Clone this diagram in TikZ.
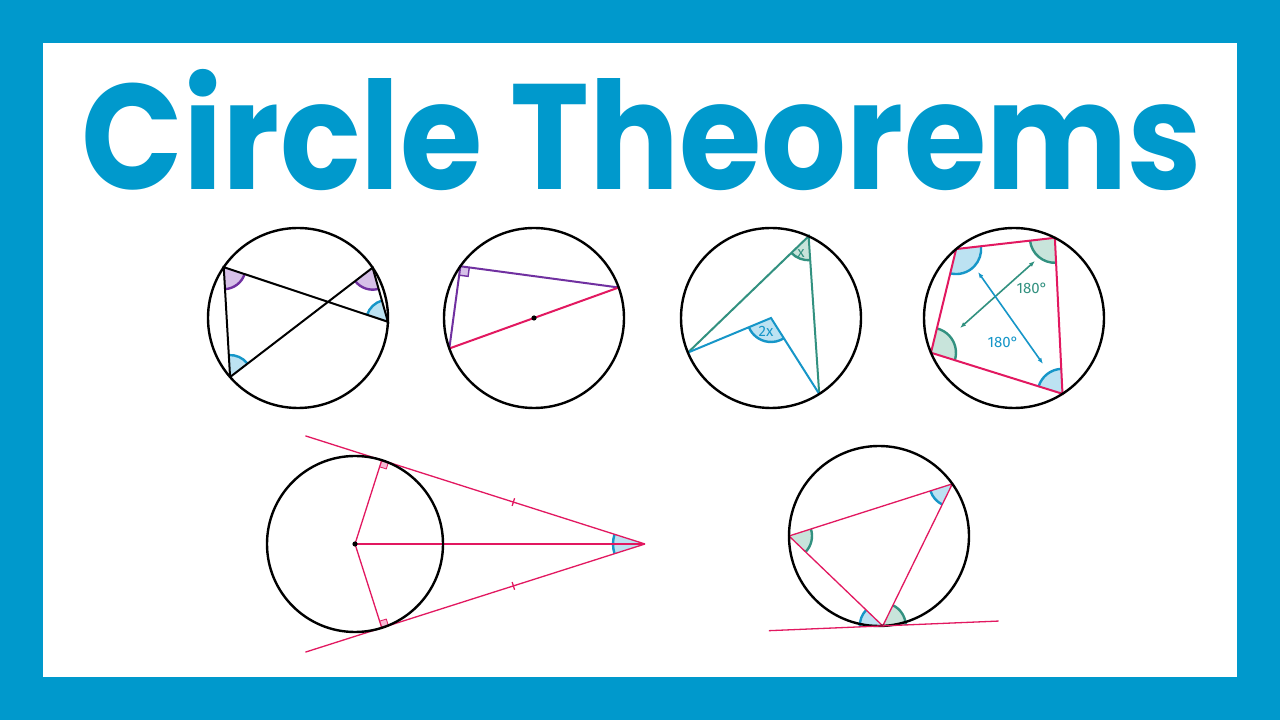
\documentclass[tikz,border=0pt]{standalone}
\usepackage{fontspec}
\newfontfamily\titlefont{Poppins}
\newfontfamily\labelfont{Fira Sans}
\usetikzlibrary{calc,angles,arrows.meta}
\definecolor{frameblue}{RGB}{0,153,204}
\definecolor{pinkline}{RGB}{226,24,96}
\definecolor{pinkfill}{RGB}{246,185,212}
\definecolor{purpline}{RGB}{112,48,160}
\definecolor{purpfill}{RGB}{214,192,232}
\definecolor{blueline}{RGB}{22,150,200}
\definecolor{bluefill}{RGB}{188,226,242}
\definecolor{tealline}{RGB}{50,145,128}
\definecolor{tealfill}{RGB}{200,228,219}
\begin{document}
\begin{tikzpicture}[x=1pt,y=1pt,
	rim/.style={draw=black,line width=2.4pt},
	chord/.style={line width=2pt},
	thin/.style={line width=1.3pt,pinkline},
	arcmark/.style={angle radius=#1,line width=2.4pt},
	title/.style={font=\titlefont\bfseries\fontsize{150}{150}\selectfont,text=frameblue,inner sep=0pt,anchor=base},
	lbl/.style={font=\labelfont\fontsize{15}{15}\selectfont,inner sep=1pt}]
	% frame
	\fill[frameblue] (0,0) rectangle (1280,720);
	\fill[white] (43,43) rectangle (1237,677);
	\node[title] (ttl) at (642,530) {\scalebox{0.89}[1]{Circle Theorems}};

	% angles in the same segment
	\coordinate (O1) at (298,402);
	\coordinate (A1) at ([shift={(145.6:90)}]O1);
	\coordinate (B1) at ([shift={(221:90)}]O1);
	\coordinate (C1) at ([shift={(34:90)}]O1);
	\coordinate (D1) at ([shift={(-2.4:90)}]O1);
	\pic[draw=purpline,fill=purpfill,arcmark=22pt] {angle=B1--A1--D1};
	\pic[draw=purpline,fill=purpfill,arcmark=22pt] {angle=B1--C1--D1};
	\pic[draw=blueline,fill=bluefill,arcmark=22pt] {angle=C1--B1--A1};
	\pic[draw=blueline,fill=bluefill,arcmark=22pt] {angle=C1--D1--A1};
	\draw[chord] (B1) -- (A1) -- (D1) -- (C1) -- (B1);
	\draw[rim] (O1) circle (90);

	% angle in a semicircle
	\coordinate (O2) at (534,402);
	\coordinate (P2) at ([shift={(144.9:90)}]O2);
	\coordinate (L2) at ([shift={(199.8:90)}]O2);
	\coordinate (R2) at ([shift={(19.8:90)}]O2);
	\pic[draw=purpline,fill=purpfill,angle radius=9pt,line width=1.4pt] {right angle=L2--P2--R2};
	\draw[chord,purpline] (L2) -- (P2) -- (R2);
	\draw[chord,pinkline] (L2) -- (R2);
	\fill (O2) circle (2.6);
	\draw[rim] (O2) circle (90);

	% angle at the centre
	\coordinate (O3) at (771,402);
	\coordinate (T3) at ([shift={(65.3:90)}]O3);
	\coordinate (L3) at ([shift={(202.6:90)}]O3);
	\coordinate (R3) at ([shift={(-57.6:90)}]O3);
	\pic[draw=tealline,fill=tealfill,arcmark=24pt] {angle=L3--T3--R3};
	\pic[draw=blueline,fill=bluefill,arcmark=24pt] {angle=L3--O3--R3};
	\draw[chord,tealline] (L3) -- (T3) -- (R3);
	\draw[chord,blueline] (L3) -- (O3) -- (R3);
	\node[lbl,text=tealline] (x3) at (801,466) {x};
	\node[lbl,text=blueline] (xx3) at (766,389) {2x};
	\draw[rim] (O3) circle (90);

	% cyclic quadrilateral
	\coordinate (O4) at (1014,402);
	\coordinate (Q1) at ([shift={(130:90)}]O4);
	\coordinate (Q2) at ([shift={(63:90)}]O4);
	\coordinate (Q3) at ([shift={(-57.4:90)}]O4);
	\coordinate (Q4) at ([shift={(202.7:90)}]O4);
	\pic[draw=blueline,fill=bluefill,arcmark=25pt] {angle=Q4--Q1--Q2};
	\pic[draw=tealline,fill=tealfill,arcmark=25pt] {angle=Q1--Q2--Q3};
	\pic[draw=blueline,fill=bluefill,arcmark=25pt] {angle=Q2--Q3--Q4};
	\pic[draw=tealline,fill=tealfill,arcmark=25pt] {angle=Q3--Q4--Q1};
	\draw[chord,pinkline] (Q1) -- (Q2) -- (Q3) -- (Q4) -- cycle;
	\coordinate (g1) at (960,392);
	\coordinate (g2) at (1035,459);
	\coordinate (b1) at (978,448);
	\coordinate (b2) at (1043,356);
	\draw[line width=1.6pt,tealline,{Latex[length=6pt]}-{Latex[length=6pt]}] (g1) -- (g2);
	\draw[line width=1.6pt,blueline,{Latex[length=6pt]}-{Latex[length=6pt]}] (b1) -- (b2);
	\node[lbl,text=tealline] (g3) at (1032,432) {180°};
	\node[lbl,text=blueline] (b3) at (1003,378) {180°};
	\draw[rim] (O4) circle (90);

	% tangents from a point
	\coordinate (O5) at (355,176);
	\coordinate (E5) at (645,176);
	\coordinate (T1) at ([shift={(72.3:88)}]O5);
	\coordinate (T2) at ([shift={(-72.3:88)}]O5);
	\pic[draw=blueline,fill=bluefill,arcmark=32pt] {angle=T1--E5--T2};
	\pic[draw=pinkline,fill=pinkfill,angle radius=7pt,line width=0.8pt] {right angle=O5--T1--E5};
	\pic[draw=pinkline,fill=pinkfill,angle radius=7pt,line width=0.8pt] {right angle=E5--T2--O5};
	\draw[thin] (E5) -- ($(E5)!1.29!(T1)$);
	\draw[thin] (E5) -- ($(E5)!1.29!(T2)$);
	\draw[thin] (T1) -- (O5) -- (T2);
	\draw[thin] (O5) -- (E5);
	\coordinate (M1) at ($(T1)!0.5!(E5)$);
	\coordinate (M2) at ($(T2)!0.5!(E5)$);
	\draw[thin] ($(M1)!4pt!90:(E5)$) -- ($(M1)!4pt!-90:(E5)$);
	\draw[thin] ($(M2)!4pt!90:(E5)$) -- ($(M2)!4pt!-90:(E5)$);
	\fill (O5) circle (2.6);
	\draw[rim] (O5) circle (88);

	% alternate segment
	\coordinate (O6) at (879,184);
	\coordinate (P6) at ([shift={(-87.6:90)}]O6);
	\coordinate (L6) at ([shift={(180:90)}]O6);
	\coordinate (R6) at ([shift={(35.4:90)}]O6);
	\coordinate (TL) at ([shift={(182.4:114)}]P6);
	\coordinate (TR) at ([shift={(2.4:116)}]P6);
	\pic[draw=tealline,fill=tealfill,arcmark=23pt] {angle=P6--L6--R6};
	\pic[draw=blueline,fill=bluefill,arcmark=23pt] {angle=L6--R6--P6};
	\pic[draw=blueline,fill=bluefill,arcmark=23pt] {angle=L6--P6--TL};
	\pic[draw=tealline,fill=tealfill,arcmark=23pt] {angle=TR--P6--R6};
	\draw[thin] (P6) -- (L6) -- (R6) -- cycle;
	\draw[rim] (O6) circle (90);
	\draw[thin] (TL) -- (TR);
\end{tikzpicture}
\end{document}
